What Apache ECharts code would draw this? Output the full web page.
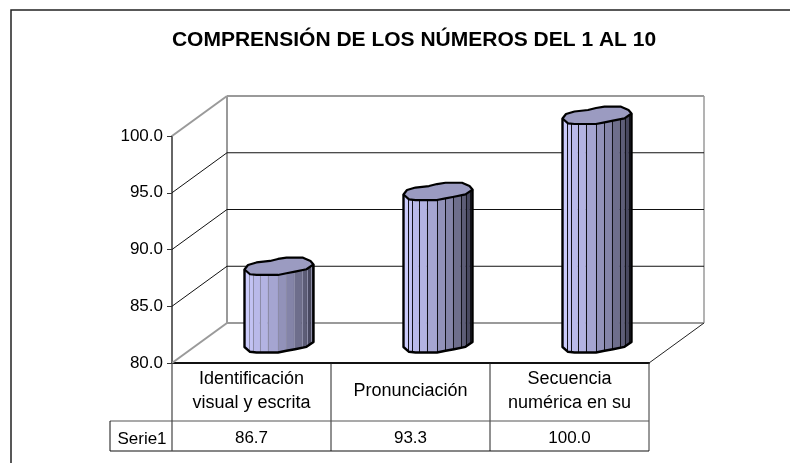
<!DOCTYPE html>
<html>
<head>
<meta charset="utf-8">
<style>
  html, body { margin: 0; padding: 0; background: #fff; }
  #chart { width: 790px; height: 463px; }
</style>
<script src="https://cdn.jsdelivr.net/npm/echarts@6/dist/echarts.min.js"></script>
</head>
<body>
<div id="chart"></div>
<script>
const titleText = 'COMPRENSIÓN DE LOS NÚMEROS DEL 1 AL 10';
const categories = ['Identificación\nvisual y escrita', 'Pronunciación', 'Secuencia\nnumérica en su'];
const seriesName = 'Serie1';
const values = [86.7, 93.3, 100.0];
const yTicks = [80, 85, 90, 95, 100];

const FONT = '"Liberation Sans", Arial, sans-serif';
// fake 3d: how far the back wall sits from the front plane
const DX = 55, DY = -40;
const GRAY = '#9a9a9a';

// outline of the excel cylinder cap, offsets from the cap centre
const capUpper = [[-34.5, 2.5], [-31, -2], [-22.5, -4.5], [-9, -6], [-1, -8], [7.5, -9.3], [24, -9.3], [31.5, -6], [34.5, -2.5]];
const capLower = [[-34.5, 2.5], [-29, 7.3], [-22.5, 8], [-1, 8], [7.5, 6.3], [16, 4.7], [27.5, 2.3], [34.5, -2.5]];
const facetStops = [0, .07, .126, .218, .335, .49, .607, .72, .83, .9, .96, 1];
const facetColors = ['#cbcbfb', '#c2c2f3', '#b9b9ea', '#b3b3e2', '#a5a5d1', '#9292b9', '#8484a8', '#6e6e8c', '#5d5d77', '#484860', '#343445'];
const seamColors = ['#8c8ca8', '#111118', '#111118'];

function lowerY(x) {
    for (let i = 1; i < capLower.length; i++) {
        const a = capLower[i - 1], b = capLower[i];
        if (x <= b[0]) {
            return a[1] + (b[1] - a[1]) * (x - a[0]) / (b[0] - a[0]);
        }
    }
    return capLower[capLower.length - 1][1];
}

function line(x1, y1, x2, y2, stroke, lineWidth) {
    return {
        type: 'line',
        shape: { x1: x1, y1: y1, x2: x2, y2: y2 },
        style: { stroke: stroke, lineWidth: lineWidth, fill: null }
    };
}

function renderWall(params, api) {
    const v = api.value(1);
    const y = api.coord([0, v])[1];
    const left = params.coordSys.x;
    const right = left + params.coordSys.width;
    const edge = v === 80 || v === 100;
    const children = [
        line(left, y, left + DX, y + DY, edge ? GRAY : '#111', edge ? 2 : 1),
        line(left + DX, y + DY, right + DX, y + DY, edge ? GRAY : '#111', edge ? 2 : 1)
    ];
    if (v === 80) {
        const top = api.coord([0, 100])[1];
        children.push(line(left + DX, y + DY, left + DX, top + DY, GRAY, 2));
        children.push(line(right + DX, y + DY, right + DX, top + DY, GRAY, 1.5));
        children.push(line(right, y, right + DX, y + DY, '#222', 1));
    }
    return { type: 'group', children: children };
}

function renderCylinder(params, api) {
    const i = api.value(0);
    const top = api.coord([i, api.value(1)]);
    const base = api.coord([i, 80]);
    const cx = top[0] + DX / 2;
    const ty = top[1] + DY / 2;
    const by = base[1] + DY / 2 + 1.5;
    const hw = 34.5;
    const children = [];
    for (let f = 0; f < facetColors.length; f++) {
        const x0 = -hw + 2 * hw * facetStops[f];
        const x1 = -hw + 2 * hw * facetStops[f + 1];
        children.push({
            type: 'polygon',
            shape: { points: [[cx + x0, ty + lowerY(x0)], [cx + x1, ty + lowerY(x1)], [cx + x1, by + lowerY(x1)], [cx + x0, by + lowerY(x0)]] },
            style: { fill: facetColors[f], stroke: facetColors[f], lineWidth: 0.5 }
        });
    }
    for (let f = 1; f < facetColors.length; f++) {
        const x = -hw + 2 * hw * facetStops[f];
        // snap to the pixel grid so the seams stay crisp
        const sx = Math.round(cx + x) + 0.5;
        children.push(line(sx, ty + lowerY(x), sx, by + lowerY(x), seamColors[i], 1));
    }
    const body = [[cx - hw, ty + capLower[0][1]]];
    capLower.forEach(function (p) { body.push([cx + p[0], by + p[1]]); });
    body.push([cx + hw, ty + capUpper[capUpper.length - 1][1]]);
    children.push({
        type: 'polyline',
        shape: { points: body },
        style: { stroke: '#000', lineWidth: 2.4, fill: null, lineJoin: 'round' }
    });
    const cap = capUpper.concat(capLower.slice().reverse()).map(function (p) {
        return [cx + p[0], ty + p[1]];
    });
    children.push({
        type: 'polygon',
        shape: { points: cap },
        style: { fill: '#9b9bc1', stroke: '#000', lineWidth: 2.2, lineJoin: 'round' }
    });
    return { type: 'group', children: children };
}

// data table under the plot: one column per category
function renderTable(params, api) {
    const i = api.value(0);
    const sys = params.coordSys;
    const bandW = sys.width / categories.length;
    const floor = sys.y + sys.height;
    const mid = floor + 58;
    const end = floor + 88;
    const left = sys.x + bandW * i;
    const right = left + bandW;
    const children = [
        line(right, floor, right, end, i === categories.length - 1 ? '#333' : '#222', 1),
        line(left, mid, right, mid, '#555', 1.2),
        line(left, end, right, end, '#111', 1.2),
        {
            type: 'text',
            style: {
                x: (left + right) / 2, y: floor + 75,
                text: api.value(1).toFixed(1),
                fill: '#000', font: '17px ' + FONT, align: 'center', verticalAlign: 'middle'
            }
        }
    ];
    if (i === 0) {
        children.push(line(left - 62, mid, left, mid, '#555', 1.2));
        children.push(line(left - 62, end, left, end, '#111', 1.2));
        children.push(line(left - 62, mid, left - 62, end, '#111', 1));
        children.push(line(left, floor, left, end, '#444', 1.2));
        children.push({
            type: 'text',
            style: {
                x: left - 30, y: floor + 76,
                text: seriesName,
                fill: '#000', font: '17px ' + FONT, align: 'center', verticalAlign: 'middle'
            }
        });
    }
    return { type: 'group', children: children };
}

const chart = echarts.init(document.getElementById('chart'), null, { renderer: 'canvas' });
chart.setOption({
    animation: false,
    backgroundColor: '#fff',
    title: {
        text: titleText,
        left: 409,
        top: 25,
        textAlign: 'center',
        textStyle: { color: '#000', fontFamily: FONT, fontWeight: 'bold', fontSize: 21 }
    },
    grid: { left: 172, top: 136, width: 477, height: 227 },
    xAxis: {
        type: 'category',
        data: categories,
        axisTick: { show: false },
        axisLine: { lineStyle: { color: '#111', width: 2 } },
        axisLabel: {
            color: '#000', fontFamily: FONT, fontSize: 18, lineHeight: 24,
            margin: 28, verticalAlign: 'middle', interval: 0
        }
    },
    yAxis: {
        type: 'value',
        min: 80,
        max: 100,
        interval: 5,
        splitLine: { show: false },
        axisLine: { show: true, lineStyle: { color: '#333', width: 1.5 } },
        axisTick: { show: true, length: 5, lineStyle: { color: '#333' } },
        axisLabel: {
            color: '#000', fontFamily: FONT, fontSize: 17, margin: 9,
            formatter: function (v) { return v.toFixed(1); }
        }
    },
    series: [
        {
            name: 'paredes',
            type: 'custom',
            silent: true,
            z: 1,
            renderItem: renderWall,
            data: yTicks.map(function (t) { return [0, t]; })
        },
        {
            name: seriesName,
            type: 'custom',
            z: 2,
            renderItem: renderCylinder,
            data: values.map(function (v, i) { return [i, v]; })
        },
        {
            name: 'tabla',
            type: 'custom',
            silent: true,
            z: 3,
            renderItem: renderTable,
            data: values.map(function (v, i) { return [i, v]; })
        }
    ],
    graphic: [
        {
            type: 'polyline',
            silent: true,
            shape: { points: [[11, 463], [11, 10], [790, 10]] },
            style: { stroke: '#222', lineWidth: 1.5, fill: null }
        }
    ]
});
</script>
</body>
</html>
